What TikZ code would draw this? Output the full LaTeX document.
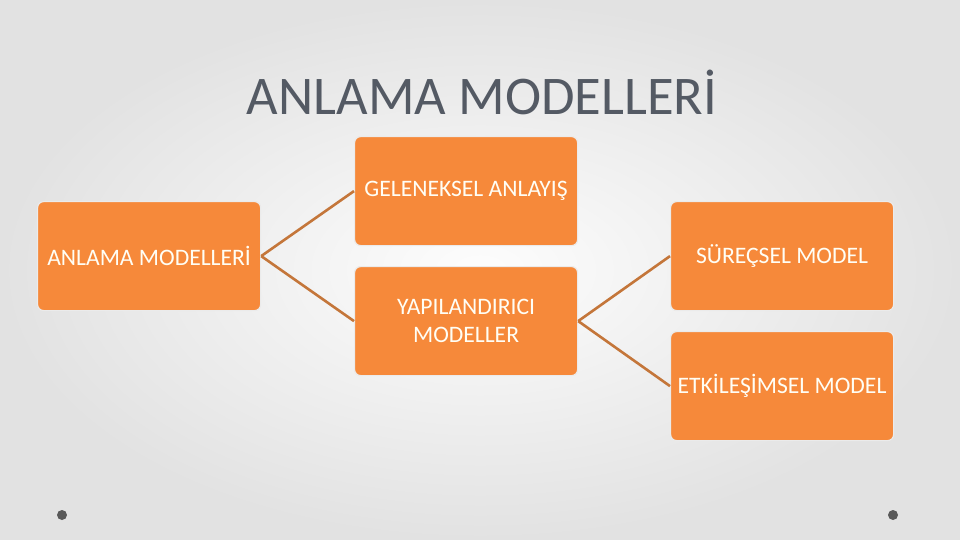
\documentclass[tikz,border=0pt]{standalone}
\usepackage{fontspec}
\setmainfont{Carlito}
\definecolor{boxfill}{RGB}{246,137,58}
\definecolor{linkcol}{RGB}{196,118,58}
\definecolor{titlecol}{RGB}{84,90,100}
\definecolor{bgedge}{RGB}{226,226,226}
\definecolor{bgmid}{RGB}{253,253,253}
\tikzset{
  orangebox/.style={draw=white!92!black, line width=1.2pt, fill=boxfill, rounded corners=6pt,
    minimum width=223pt, minimum height=109pt, inner sep=2pt, text=white!96!yellow,
    font=\fontsize{23.6}{28}\selectfont, align=center, anchor=north west},
  link/.style={draw=linkcol, line width=2.6pt},
  dot/.style={fill=black!65, draw=none, circle, minimum size=10pt, inner sep=0pt}
}
\begin{document}
\begin{tikzpicture}[x=1pt,y=-1pt]
\useasboundingbox (0,0) rectangle (960,540);
\shade[inner color=bgmid, outer color=bgedge] (0,0) rectangle (960,540);
\node[text=titlecol, font=\fontsize{54.5}{60}\selectfont] (title) at (482,92) {ANLAMA MODELLERİ};
\node[orangebox] (root) at (37,201) {ANLAMA MODELLERİ};
\node[orangebox] (gel) at (354,136) {GELENEKSEL ANLAYIŞ};
\node[orangebox] (yap) at (354,266) {YAPILANDIRICI\\MODELLER};
\node[orangebox] (sur) at (670,201) {SÜREÇSEL MODEL};
\node[orangebox] (etk) at (670,331) {ETKİLEŞİMSEL MODEL};
\draw[link] (root.east) -- (gel.west);
\draw[link] (root.east) -- (yap.west);
\draw[link] (yap.east) -- (sur.west);
\draw[link] (yap.east) -- (etk.west);
\node[dot] (d1) at (62,515) {};
\node[dot] (d2) at (893,515) {};
\end{tikzpicture}
\end{document}
